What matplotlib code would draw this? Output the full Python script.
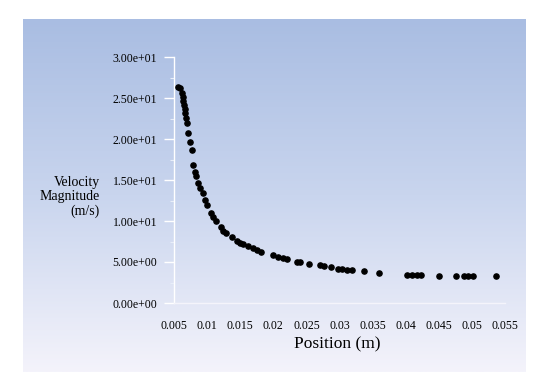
# Velocity magnitude vs position, scatter on a blue gradient panel

import numpy as np
from matplotlib import pyplot as plt
from matplotlib.colors import LinearSegmentedColormap

# position (m)
position = [0.00560, 0.00591, 0.00621, 0.00636, 0.00636, 0.00651, 0.00666, 0.00666,
            0.00681, 0.00696, 0.00711, 0.00742, 0.00772, 0.00787, 0.00817, 0.00832,
            0.00862, 0.00893, 0.00938, 0.00968, 0.00998, 0.01059, 0.01089, 0.01134,
            0.01210, 0.01240, 0.01285, 0.01376, 0.01452, 0.01497, 0.01542, 0.01618,
            0.01693, 0.01754, 0.01814, 0.01995, 0.02071, 0.02147, 0.02207, 0.02358,
            0.02403, 0.02539, 0.02705, 0.02766, 0.02872, 0.02977, 0.03038, 0.03113,
            0.03189, 0.03370, 0.03597, 0.04020, 0.04095, 0.04171, 0.04231, 0.04503,
            0.04760, 0.04881, 0.04941, 0.05017, 0.05364]
# velocity magnitude (m/s)
velocity = [26.34, 26.22, 25.61, 25.12, 24.63, 24.15, 23.66, 23.17,
            22.56, 21.95, 20.73, 19.63, 18.66, 16.83, 15.98, 15.49,
            14.63, 14.02, 13.41, 12.56, 11.95, 10.98, 10.49, 10.00,
            9.27, 8.78, 8.54, 8.05, 7.56, 7.32, 7.20, 6.95,
            6.71, 6.46, 6.22, 5.85, 5.61, 5.49, 5.37, 5.00,
            5.00, 4.76, 4.63, 4.51, 4.39, 4.15, 4.15, 4.02,
            4.02, 3.90, 3.66, 3.41, 3.41, 3.41, 3.41, 3.29,
            3.29, 3.29, 3.29, 3.29, 3.29]

xticks = [0.005, 0.01, 0.015, 0.02, 0.025, 0.03, 0.035, 0.04, 0.045, 0.05, 0.055]
xticklabels = ['0.005', '0.01', '0.015', '0.02', '0.025', '0.03', '0.035',
               '0.04', '0.045', '0.05', '0.055']
yticks = [0, 5, 10, 15, 20, 25, 30]
yticklabels = ['%.2e' % v for v in yticks]

W, H = 536, 381
fig = plt.figure(figsize=(W/100.0, H/100.0), dpi=100)
fig.patch.set_facecolor('white')
plt.rcParams['font.family'] = ['Liberation Serif', 'DejaVu Serif']

# gradient background panel
bg = fig.add_axes([23.0/W, 1-372.0/H, (526-23.0)/W, (372-19.0)/H])
cmap = LinearSegmentedColormap.from_list('bg', ['#a9bde2', '#c9d5ee', '#f4f3fb'])
grad = np.linspace(0, 1, 256).reshape(-1, 1)
bg.imshow(grad, aspect='auto', cmap=cmap, extent=[0, 1, 1, 0])
bg.set_axis_off()

ax = fig.add_axes([174.0/W, 1-303.0/H, (505-174.0)/W, (303-57.0)/H])
ax.patch.set_alpha(0)
ax.scatter(position, velocity, s=14, color='black', zorder=3, clip_on=False)

ax.set_xlim(0.005, 0.055)
ax.set_ylim(0, 30)
ax.set_xticks(xticks)
ax.set_xticklabels(xticklabels)
ax.set_yticks(yticks)
ax.set_yticklabels(yticklabels)
ax.set_yticks(np.arange(2.5, 30, 5), minor=True)

for s in ['top', 'right']:
    ax.spines[s].set_visible(False)
ax.spines['left'].set_color('white')
ax.spines['bottom'].set_color('#f4f4fb')
ax.spines['left'].set_linewidth(1.0)
ax.spines['bottom'].set_linewidth(1.0)

ax.tick_params(axis='y', which='major', color='white', length=7, width=1,
               labelsize=8.5, pad=5)
ax.tick_params(axis='y', which='minor', color='#e8eef9', length=3, width=0.8)
ax.tick_params(axis='x', which='major', length=0, labelsize=8.5, pad=12)

fig.text(100.0/W, 1-197.0/H, 'Velocity\nMagnitude\n(m/s)', ha='right', va='center',
         fontsize=10, linespacing=1.1)
fig.text(337.0/W, 1-344.0/H, 'Position (m)', ha='center', va='center', fontsize=12.5)

plt.savefig('out.png', dpi=100)
